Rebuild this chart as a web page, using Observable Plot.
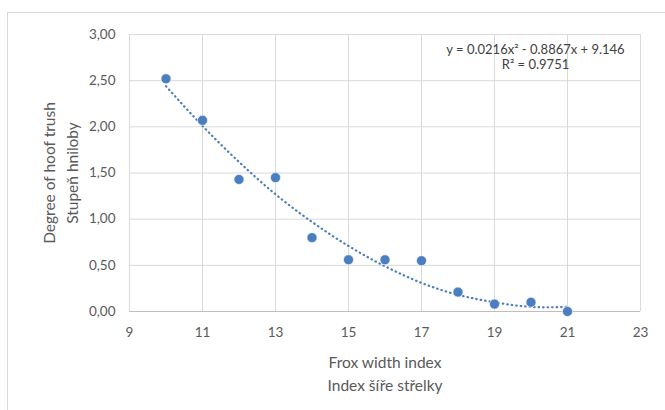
<!DOCTYPE html>
<html>
<head>
<meta charset="utf-8">
<script src="https://cdn.jsdelivr.net/npm/d3@7"></script>
<script src="https://cdn.jsdelivr.net/npm/@observablehq/plot@0.6"></script>
<style>
  html, body { margin: 0; padding: 0; background: #fff; }
  #wrap { position: relative; width: 665px; height: 410px; overflow: hidden; }
  #border { position: absolute; left: 7px; top: 12px; width: 680px; height: 420px; border: 1px solid #d9d9d9; box-sizing: border-box; }
  #chart { position: absolute; left: 0; top: 0; }
</style>
</head>
<body>
<div id="wrap"><div id="border"></div><div id="chart"></div></div>
<script>
const xValues = [10, 11, 12, 13, 14, 15, 16, 17, 18, 19, 20, 21];
const yValues = [2.52, 2.07, 1.43, 1.45, 0.80, 0.56, 0.56, 0.55, 0.21, 0.08, 0.10, 0.00];
// trendline at each integer x
const trendValues = [2.44, 2.01, 1.62, 1.27, 0.97, 0.71, 0.49, 0.31, 0.18, 0.10, 0.05, 0.05];
const xTicks = [9, 11, 13, 15, 17, 19, 21, 23];
const yTicks = [0, 0.5, 1, 1.5, 2, 2.5, 3];
const equationText = "y = 0.0216x² - 0.8867x + 9.146\nR² = 0.9751";
const xTitle = "Frox width index\nIndex šíře střelky";
const yTitle = "Degree of hoof trush\nStupeň hniloby";

const points = xValues.map((x, i) => ({x, y: yValues[i]}));
const trend = xValues.map((x, i) => ({x, y: trendValues[i]}));
const blue = "#4a7ebf";
const textColor = "#595959";
const fmt = v => d3.format(".2f")(v).replace(".", ",");

const chart = Plot.plot({
  width: 665,
  height: 410,
  marginLeft: 129,
  marginRight: 25,
  marginTop: 34,
  marginBottom: 99,
  style: {fontFamily: "Lato, 'Open Sans', sans-serif", fontSize: "13.5px", color: textColor, background: "transparent"},
  x: {domain: [9, 23], ticks: xTicks, tickSize: 0, tickPadding: 16, label: null, tickFormat: d => String(d)},
  y: {domain: [0, 3], ticks: yTicks, tickSize: 0, tickPadding: 14, label: null, tickFormat: fmt},
  marks: [
    Plot.gridX(xTicks, {stroke: "#d9d9d9", strokeOpacity: 1, strokeWidth: 1}),
    Plot.gridY(yTicks, {stroke: "#d9d9d9", strokeOpacity: 1, strokeWidth: 1}),
    Plot.ruleY([0], {stroke: "#bfbfbf", strokeWidth: 1}),
    Plot.line(trend, {x: "x", y: "y", curve: "natural", stroke: blue, strokeWidth: 2.2, strokeDasharray: "0.5,4", strokeLinecap: "round"}),
    Plot.dot(points, {x: "x", y: "y", r: 5, fill: blue, stroke: "#ffffff", strokeWidth: 0.6}),
    Plot.text([equationText], {frameAnchor: "top-right", dx: -105, dy: 9, lineAnchor: "top", text: d => d, textAnchor: "middle", fontSize: 13, fill: "#404040", lineHeight: 1.15}),
    Plot.text([xTitle], {frameAnchor: "bottom", dy: 40, lineAnchor: "top", text: d => d, fontSize: 15.5, fill: textColor, lineHeight: 1.5}),
    Plot.text([yTitle], {frameAnchor: "left", dx: -70, rotate: -90, textAnchor: "middle", lineAnchor: "middle", text: d => d, fontSize: 15.5, fill: textColor, lineHeight: 1.45})
  ]
});
document.getElementById("chart").appendChild(chart);
</script>
</body>
</html>
